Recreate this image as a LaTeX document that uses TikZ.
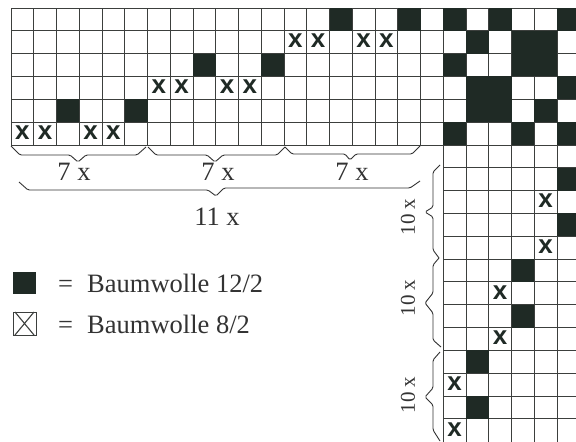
\documentclass[tikz,border=0pt]{standalone}
\usepackage{fontspec}
\setmainfont{Liberation Serif}
\newfontfamily\marksfont{Liberation Sans}[BoldFont={Liberation Sans Bold}]
\definecolor{ink}{HTML}{1F2A25}
\definecolor{gridc}{HTML}{3C3F3D}
\definecolor{txt}{HTML}{333333}
\tikzset{
  gridline/.style={draw=gridc,line width=0.95pt},
  blackcell/.style={fill=ink},
  crossmark/.style={inner sep=0pt,text=ink,font=\marksfont\bfseries\fontsize{26}{26}\selectfont},
  lbl/.style={inner sep=0pt,text=txt,font=\fontsize{26.5}{28}\selectfont},
  sidelbl/.style={inner sep=0pt,text=txt,rotate=90,font=\fontsize{21}{23}\selectfont},
  bracketline/.style={draw=txt,line width=0.9pt,line join=round,rounded corners=1.5pt}
}
\begin{document}
\begin{tikzpicture}[x=1pt,y=-1pt]
\useasboundingbox (0,0) rectangle (576,442);
\fill[white] (0,0) rectangle (576,442);
\begin{scope}[shift={(11,8)},x=22.75pt,y=-22.83pt]
  % grid
  \foreach \i in {0,...,6} \draw[gridline] (0,\i) -- (24.84,\i);
  \foreach \i in {7,...,18} \draw[gridline] (19,\i) -- (24.84,\i);
  \foreach \i in {0,...,18} \draw[gridline] (\i,0) -- (\i,6);
  \foreach \i in {19,...,24} \draw[gridline] (\i,0) -- (\i,19);
  % filled cells, painted over the grid so that neighbours merge
  \foreach \c/\r in {14/0,17/0,19/0,21/0,24/0,
                     20/1,22/1,23/1,
                     8/2,11/2,19/2,22/2,23/2,
                     20/3,21/3,24/3,
                     2/4,5/4,20/4,21/4,23/4,
                     19/5,22/5,24/5,
                     24/7,24/9,22/11,22/13,20/15,20/17}
    \fill[blackcell] (\c,\r) rectangle ++(1,1);
  % crosses
  \foreach \c/\r in {12/1,13/1,15/1,16/1,6/3,7/3,9/3,10/3,0/5,1/5,3/5,4/5,
                     23/8,23/10,21/12,21/14,19/16,19/18}
    \node[crossmark] (x\c-\r) at (\c+.5,\r+.45) {x};
\end{scope}
% horizontal brackets
\draw[bracketline] (11,146) -- (20,155) -- (70,155) -- (78,162) -- (86,155) -- (137,155) -- (146,147);
\draw[bracketline] (148,147) -- (156,155) -- (207,155) -- (215,162) -- (223,155) -- (277,155) -- (285,147);
\draw[bracketline] (285,147) -- (292,154) -- (345,154) -- (350,160) -- (356,154) -- (412,154) -- (420,146);
\draw[bracketline] (19,182) -- (28,190) -- (208,190) -- (216,196) -- (224,188) -- (410,188) -- (420,181);
% vertical brackets
\draw[bracketline] (440,165) -- (433,172) -- (433,207) -- (425,212) -- (433,217) -- (433,250) -- (439,258);
\draw[bracketline] (439,258) -- (433,265) -- (433,293) -- (425,303) -- (433,313) -- (433,340) -- (441,347);
\draw[bracketline] (440,352) -- (433,360) -- (433,388) -- (425,397) -- (433,405) -- (433,430) -- (440,441);
% labels
\node[lbl] (a) at (74,172) {7 x};
\node[lbl] (b) at (218,172) {7 x};
\node[lbl] (c) at (352,172) {7 x};
\node[lbl] (d) at (217,217) {11 x};
\node[sidelbl] (e) at (408,217) {10 x};
\node[sidelbl] (f) at (408,298) {10 x};
\node[sidelbl] (g) at (408,395) {10 x};
% legend
\fill[blackcell] (13,272) rectangle (36,294);
\draw[gridline] (13,312) rectangle (36,335);
\draw[gridline,line width=1.1pt] (15,312) -- (34,335) (34,312) -- (15,335);
\node[lbl,anchor=base west] (h) at (58,292) {=};
\node[lbl,anchor=base west] (i) at (87,292) {Baumwolle 12/2};
\node[lbl,anchor=base west] (j) at (58,333) {=};
\node[lbl,anchor=base west] (k) at (87,333) {Baumwolle 8/2};
\end{tikzpicture}
\end{document}
